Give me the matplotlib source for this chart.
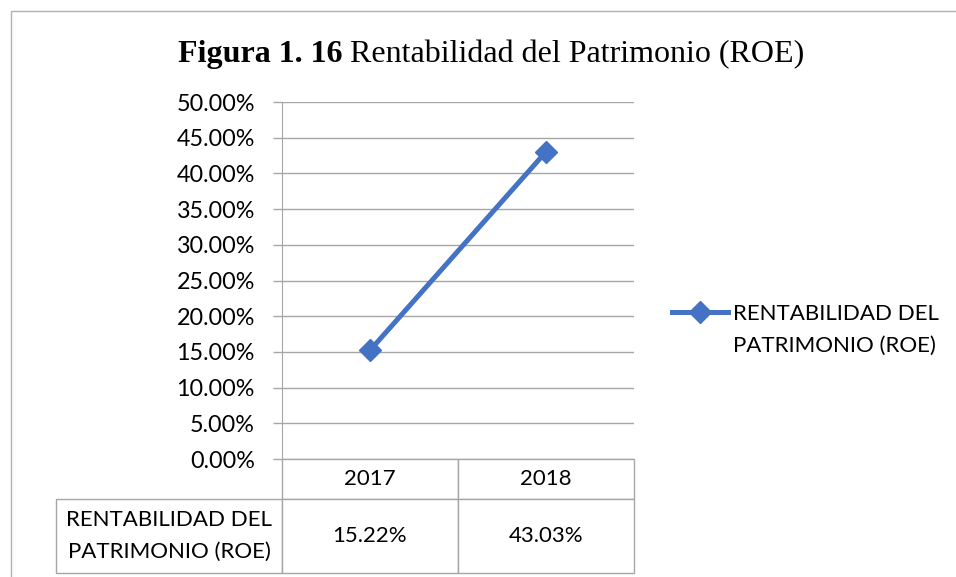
import matplotlib.pyplot as plt
from matplotlib.lines import Line2D
from matplotlib.patches import Rectangle
from matplotlib.table import Table

# ---------- data ----------
years = ['2017', '2018']
roe = [15.22, 43.03]
serie_lines = ['RENTABILIDAD DEL', 'PATRIMONIO (ROE)']
yticks = [0, 5, 10, 15, 20, 25, 30, 35, 40, 45, 50]
title_bold = 'Figura 1. 16'
title_rest = 'Rentabilidad del Patrimonio (ROE)'

blue = '#4472C4'
grid_col = '#A6A6A6'
sans = 'Lato'
fs = 16

W, H = 956, 577
fig = plt.figure(figsize=(W / 100, H / 100), dpi=100)


def fx(px):
    return px / W


def fy(py):
    return 1 - py / H


# outer frame of the chart object
fig.add_artist(Rectangle((fx(11), -0.1), 1.2, fy(11) + 0.1, transform=fig.transFigure,
                         fill=False, edgecolor='#B0B0B0', lw=1))

ax = fig.add_axes([fx(282), fy(459), fx(634) - fx(282), fy(102) - fy(459)])
x = list(range(len(years)))
line, = ax.plot(x, roe, color=blue, lw=3.6, marker='D', markersize=11, zorder=3)

ax.set_xlim(-0.5, len(years) - 0.5)
ax.set_ylim(0, 50)
ax.set_yticks(yticks)
ax.set_yticklabels([f'{v:.2f}%' for v in yticks], fontfamily=sans, fontsize=16.8)
ax.set_xticks([])
ax.tick_params(axis='y', direction='out', length=6.5, width=1, color=grid_col, pad=13)
ax.yaxis.grid(True, color=grid_col, lw=1)
ax.set_axisbelow(True)
for s in ['top', 'right', 'bottom']:
    ax.spines[s].set_visible(False)
ax.spines['left'].set_color(grid_col)

# data table under the plot (axes units: width 352 px, height 357 px)
# bbox covers the year columns only, the row label column hangs to its left
lab_w = 226 / 352
col_w = 0.5
hdr_h = 40 / 357
row_h = 74 / 357
tab = Table(ax, bbox=[0, -(hdr_h + row_h), col_w * len(years), hdr_h + row_h])
for j, yr in enumerate(years):
    tab.add_cell(0, j, col_w, hdr_h, text=yr, loc='center')
    tab.add_cell(1, j, col_w, row_h, text=f'{roe[j]:.2f}%', loc='center')
tab.add_cell(1, -1, lab_w, row_h, text='\n'.join(serie_lines), loc='center')
tab.auto_set_font_size(False)
for (r, c), cell in tab.get_celld().items():
    cell.set_edgecolor(grid_col)
    cell.set_linewidth(1)
    cell.get_text().set_fontfamily(sans)
    cell.get_text().set_fontsize(fs)
    cell.get_text().set_linespacing(1.75)
ax.add_table(tab)

# legend on the right
handle = Line2D([], [], color=blue, lw=3.6, marker='D', markersize=11)
leg = fig.legend([handle], [serie_lines[0]], loc='center left',
                 bbox_to_anchor=(fx(672), fy(314)), frameon=False,
                 borderpad=0, borderaxespad=0, handlelength=2.5, handletextpad=0.25,
                 prop={'family': sans, 'size': fs})

# title: bold part + regular part
t1 = fig.text(fx(178), fy(62), title_bold, fontfamily='Liberation Serif',
              fontweight='bold', fontsize=23, va='baseline', ha='left')
fig.canvas.draw()
r = fig.canvas.get_renderer()
bb = t1.get_window_extent(r)
fig.text(bb.x1 / W + fx(7), fy(62), title_rest, fontfamily='Liberation Serif',
         fontsize=23, va='baseline', ha='left')

lb = leg.get_texts()[0].get_window_extent(r)
fig.text(lb.x0 / W, fy(346), serie_lines[1], fontfamily=sans, fontsize=fs,
         va='center', ha='left')

fig.savefig('out.png', dpi=100)
